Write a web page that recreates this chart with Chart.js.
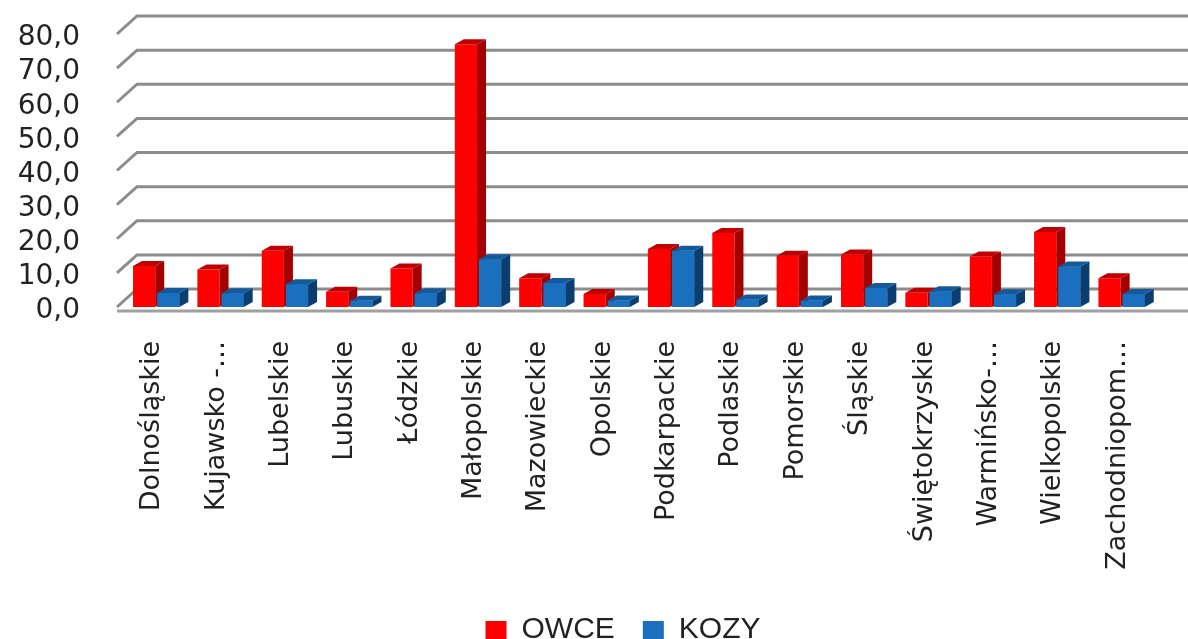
<!DOCTYPE html>
<html>
<head>
<meta charset="utf-8">
<script src="https://cdn.jsdelivr.net/npm/chart.js@4"></script>
<style>
  html, body { margin: 0; padding: 0; background: #fff; }
  #wrap { width: 1188px; height: 639px; }
</style>
</head>
<body>
<div id="wrap"><canvas id="chart" width="1188" height="639"></canvas></div>
<script>
const regions = ['Dolnośląskie', 'Kujawsko -…', 'Lubelskie', 'Lubuskie', 'Łódzkie', 'Małopolskie',
    'Mazowieckie', 'Opolskie', 'Podkarpackie', 'Podlaskie', 'Pomorskie', 'Śląskie',
    'Świętokrzyskie', 'Warmińsko-…', 'Wielkopolskie', 'Zachodniopom…'];
const owce = [12.0, 11.0, 16.5, 4.5, 11.3, 77.0, 8.4, 3.8, 17.0, 21.7, 15.0, 15.4, 4.2, 14.8, 22.0, 8.4];
const kozy = [4.1, 4.0, 6.7, 1.8, 4.0, 14.0, 7.0, 1.9, 16.5, 2.2, 1.9, 5.6, 4.6, 3.7, 11.9, 3.8];
const yTicks = [0, 10, 20, 30, 40, 50, 60, 70, 80];

// depth of the fake 3d look
const DX = 9, DY = 5;
const WALL_DX = 20, WALL_DY = 18;

const faces = [
    { top: '#c00000', side: '#a40000' },
    { top: '#135a9c', side: '#0b3d6e' },
];

// back wall grid + floor, drawn before the bars
const wallPlugin = {
    id: 'wall',
    afterLayout(chart) {
        // legend in the original sits a bit right of centre
        chart.legend.left += 29;
        chart.legend.right += 29;
    },
    beforeDraw(chart) {
        const { ctx } = chart;
        ctx.save();
        ctx.fillStyle = '#fff';
        ctx.fillRect(0, 0, chart.width, chart.height);
        ctx.restore();
    },
    beforeDatasetsDraw(chart) {
        const { ctx, chartArea } = chart;
        const y = chart.scales.y;
        const left = chartArea.left - 7;
        ctx.save();
        ctx.lineWidth = 3;
        ctx.strokeStyle = '#8c8c8c';
        yTicks.forEach(v => {
            const py = y.getPixelForValue(v);
            ctx.beginPath();
            ctx.moveTo(left, py);
            ctx.lineTo(left + WALL_DX, py - WALL_DY);
            ctx.lineTo(chart.width, py - WALL_DY);
            ctx.stroke();
        });
        // floor front edge
        const base = y.getPixelForValue(0) + 4;
        ctx.strokeStyle = '#a0a0a0';
        ctx.beginPath();
        ctx.moveTo(left, base);
        ctx.lineTo(chart.width, base);
        ctx.stroke();
        ctx.restore();
    },
};

function drawFaces(ctx, bar, c) {
    const { x, y, base, width } = bar.getProps(['x', 'y', 'base', 'width'], true);
    const l = x - width / 2, r = x + width / 2;
    ctx.fillStyle = c.side;
    ctx.beginPath();
    ctx.moveTo(r, y);
    ctx.lineTo(r + DX, y - DY);
    ctx.lineTo(r + DX, base - DY);
    ctx.lineTo(r, base);
    ctx.closePath();
    ctx.fill();
    ctx.fillStyle = c.top;
    ctx.beginPath();
    ctx.moveTo(l, y);
    ctx.lineTo(l + DX, y - DY);
    ctx.lineTo(r + DX, y - DY);
    ctx.lineTo(r, y);
    ctx.closePath();
    ctx.fill();
}

// top and side faces; the blue bar sits in front of the red one's side
const boxPlugin = {
    id: 'box3d',
    afterDatasetsDraw(chart) {
        const { ctx } = chart;
        const red = chart.getDatasetMeta(0).data;
        const blue = chart.getDatasetMeta(1).data;
        ctx.save();
        red.forEach((bar, i) => {
            drawFaces(ctx, bar, faces[0]);
            blue[i].draw(ctx);
            drawFaces(ctx, blue[i], faces[1]);
        });
        ctx.restore();
    },
};

new Chart(document.getElementById('chart'), {
    type: 'bar',
    data: {
        labels: regions,
        datasets: [
            { label: 'OWCE', data: owce, backgroundColor: '#ff0000' },
            { label: 'KOZY', data: kozy, backgroundColor: '#1a6fbf' },
        ],
    },
    options: {
        responsive: false,
        animation: false,
        layout: { padding: { top: 34, left: 0, right: 0, bottom: -16 } },
        datasets: {
            bar: { categoryPercentage: 0.75, barPercentage: 0.92 },
        },
        scales: {
            x: {
                grid: { display: false, drawTicks: false },
                border: { display: false },
                ticks: {
                    maxRotation: 90,
                    minRotation: 90,
                    autoSkip: false,
                    padding: 34,
                    labelOffset: -4,
                    color: '#222',
                    font: { family: 'DejaVu Sans', size: 27 },
                },
                afterFit(scale) { scale.height = 280; },
            },
            y: {
                min: 0,
                max: 80,
                grid: { display: false, drawTicks: false },
                border: { display: false },
                ticks: {
                    stepSize: 10,
                    autoSkip: false,
                    padding: 44,
                    labelOffset: 4,
                    color: '#222',
                    font: { family: 'DejaVu Sans', size: 28 },
                    callback: v => v.toFixed(1).replace('.', ','),
                },
                afterFit(scale) {
                    scale.width = 124;
                    scale.paddingTop = 0;
                    scale.paddingBottom = 0;
                },
            },
        },
        plugins: {
            tooltip: { enabled: false },
            legend: {
                position: 'bottom',
                labels: {
                    boxWidth: 21,
                    boxHeight: 18,
                    padding: 28,
                    color: '#222',
                    font: { family: 'Liberation Sans', size: 30 },
                },
            },
        },
    },
    plugins: [wallPlugin, boxPlugin],
});
</script>
</body>
</html>
